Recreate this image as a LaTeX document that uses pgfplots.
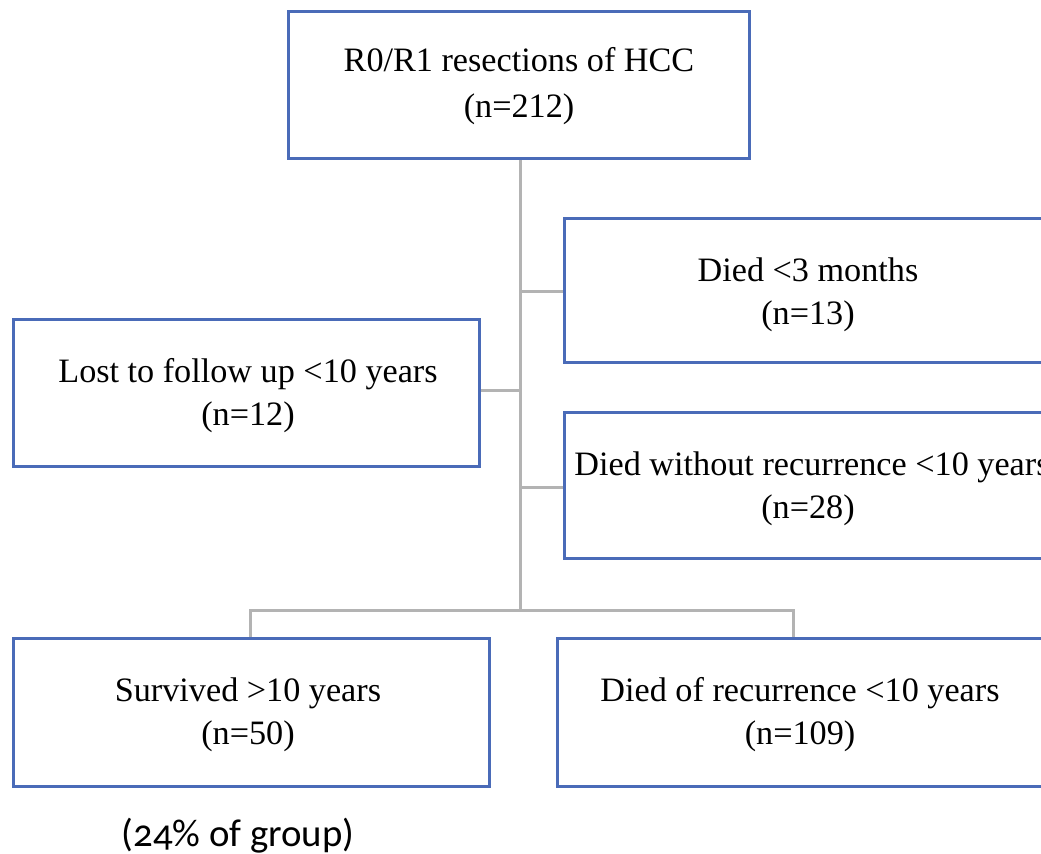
\documentclass[border=0pt]{standalone}
\usepackage{pgfplots}
\pgfplotsset{compat=1.18}
\usepackage{fontspec}
\setmainfont{Liberation Serif}
\newfontfamily\calib[Numbers=OldStyle]{Carlito}
\definecolor{boxblue}{HTML}{4A6BB8}
\definecolor{linegray}{HTML}{B3B3B3}
\begin{document}
\begin{tikzpicture}
\begin{axis}[name=ax, scale only axis, width=520.5bp, height=427bp,
  xmin=0, xmax=1041, ymin=0, ymax=854, y dir=reverse, hide axis, clip=false]
% connectors
\draw[linegray, line width=1.5bp] (axis cs:520,160) -- (axis cs:520,610);
\draw[linegray, line width=1.5bp] (axis cs:520,291) -- (axis cs:563,291);
\draw[linegray, line width=1.5bp] (axis cs:481,390) -- (axis cs:520,390);
\draw[linegray, line width=1.5bp] (axis cs:520,487) -- (axis cs:563,487);
\draw[linegray, line width=1.5bp] (axis cs:250,637) -- (axis cs:250,610) -- (axis cs:793,610) -- (axis cs:793,637);
% boxes
\draw[boxblue, line width=1.6bp] (axis cs:288.5,11.5) rectangle (axis cs:749.5,158.5);
\draw[boxblue, line width=1.6bp, fill=white] (axis cs:564.5,218.5) rectangle (axis cs:1055,362.5);
\draw[boxblue, line width=1.6bp, fill=white] (axis cs:13.5,319.5) rectangle (axis cs:479.5,466.5);
\draw[boxblue, line width=1.6bp, fill=white] (axis cs:564.5,412.5) rectangle (axis cs:1055,558.5);
\draw[boxblue, line width=1.6bp, fill=white] (axis cs:13.5,638.5) rectangle (axis cs:489.5,786.5);
\draw[boxblue, line width=1.6bp, fill=white] (axis cs:557.5,638.5) rectangle (axis cs:1055,786.5);
% texts
\tikzset{t/.style={anchor=base, inner sep=0pt, font=\fontsize{17.1bp}{20bp}\selectfont}}
\node[t] at (axis cs:519,72) {R0/R1 resections of HCC};
\node[t] at (axis cs:519,118) {(n=212)};
\node[t] at (axis cs:808,281) {Died <3 months};
\node[t] at (axis cs:808,324) {(n=13)};
\node[t] at (axis cs:248,382) {Lost to follow up <10 years};
\node[t] at (axis cs:248,425) {(n=12)};
\node[t] at (axis cs:812,475) {Died without recurrence <10 years};
\node[t] at (axis cs:808,518) {(n=28)};
\node[t] at (axis cs:248,701) {Survived >10 years};
\node[t] at (axis cs:248,744) {(n=50)};
\node[t] at (axis cs:800,701) {Died of recurrence <10 years};
\node[t] at (axis cs:800,744) {(n=109)};
\node[anchor=base, inner sep=0pt, font=\calib\fontsize{19.4bp}{22bp}\selectfont] at (axis cs:238,846) {(24\% of group)};
\end{axis}
\pgfresetboundingbox
\path (ax.south west) rectangle (ax.north east);
\end{tikzpicture}
\end{document}
